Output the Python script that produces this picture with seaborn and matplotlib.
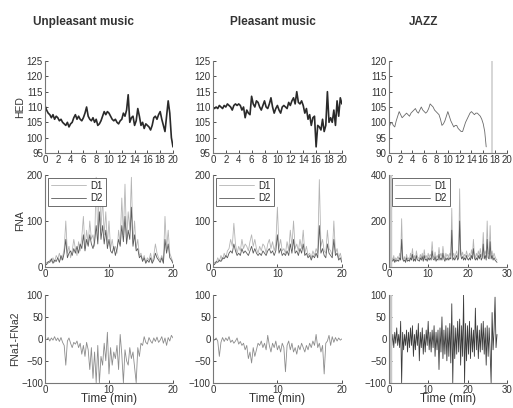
import numpy as np
import matplotlib
matplotlib.use("Agg")
import matplotlib.pyplot as plt
import seaborn as sns

# ---- data ----
titles = ["Unpleasant music", "Pleasant music", "JAZZ"]
row_labels = ["HED", "FNA", "FNa1-FNa2"]

dur_unp = 20
dur_ple = 20
dur_jazz_hed = 16.5
dur_jazz = 27.5

hed_unp = [110.5, 109, 108, 107.5, 106.5, 107.5, 106, 107, 106.5, 105.5, 106, 105, 104.5, 104, 105, 103.5,
           104.5, 105, 106.5, 107.5, 106, 107, 106, 105.5, 106.5, 108, 110, 107, 106, 105.5, 106.5, 105,
           106, 104, 104.5, 105.5, 107, 108.5, 107.5, 108.5, 108, 107, 106, 105.5, 106, 105, 104.5, 105.5,
           106, 108, 107, 109, 114, 105, 106.5, 107, 104, 105.5, 109.5, 107, 104, 105, 103, 104.5, 104,
           103.5, 102.5, 104, 106.5, 107, 106, 107.5, 108.5, 106, 104, 102, 107, 112, 108, 100, 97]
hed_ple = [110, 109.5, 110, 109.5, 110.5, 110, 109.5, 110.5, 110, 111, 110.5, 110, 109, 110.5, 111, 110.5,
           111, 110.5, 109, 110, 106.5, 109, 108, 107.5, 113.5, 111, 110, 112, 111.5, 110, 109, 110.5, 112,
           110, 109.5, 111, 113, 110, 108, 109.5, 110.5, 109, 108, 110, 110.5, 110, 109.5, 111.5, 110.5,
           112, 113, 111, 115, 111.5, 111, 112, 110.5, 108, 109.5, 106, 107.5, 104, 106.5, 107, 97, 104,
           103.5, 102.5, 106, 102, 104, 115, 105, 106.5, 105, 109, 104, 112, 107, 113, 111]
hed_jazz = [98, 99.5, 100, 99, 98.5, 100.5, 102, 103.5, 102.5, 101.5, 102, 102.5, 103, 102.5, 102, 103,
            103.5, 104, 104.5, 103.5, 103, 104, 105, 104, 103.5, 103, 103.5, 104.5, 106, 105.5, 105, 104,
            103.5, 103, 102.5, 101, 99, 99.5, 100.5, 102, 103.5, 102, 100.5, 99.5, 98.5, 99, 99, 98, 97.5,
            97, 97, 98.5, 100, 101, 102, 103, 103.5, 103, 102.5, 103, 103, 102.5, 102, 101, 99.5, 97, 92]

fna_unp_d1 = [5, 10, 8, 15, 12, 20, 10, 25, 18, 30, 15, 22, 40, 100, 30, 45, 20, 35, 60, 40, 25, 55, 35, 65,
              110, 40, 80, 50, 100, 60, 70, 45, 195, 60, 190, 80, 150, 70, 120, 50, 100, 40, 60, 35, 45, 30,
              80, 50, 150, 70, 180, 60, 120, 80, 195, 50, 100, 40, 60, 25, 30, 15, 25, 10, 20, 15, 30, 10, 25,
              50, 30, 20, 15, 25, 10, 110, 40, 80, 30, 20, 10]
fna_unp_d2 = [8, 5, 12, 10, 18, 8, 15, 12, 20, 10, 25, 15, 30, 60, 20, 30, 35, 25, 40, 30, 45, 30, 50, 40, 70,
              35, 60, 45, 70, 50, 40, 55, 90, 50, 120, 60, 90, 50, 80, 40, 60, 35, 30, 45, 25, 40, 60, 45, 90,
              55, 110, 50, 80, 60, 130, 45, 70, 35, 40, 20, 25, 12, 20, 8, 15, 10, 20, 8, 15, 30, 20, 15, 10,
              20, 8, 60, 30, 50, 20, 15, 8]
fna_ple_d1 = [5, 10, 8, 20, 12, 25, 15, 30, 20, 35, 40, 60, 45, 95, 50, 30, 45, 35, 60, 40, 50, 45, 35, 55, 70,
              45, 60, 40, 30, 45, 35, 50, 45, 30, 50, 60, 40, 55, 35, 50, 130, 40, 60, 35, 40, 30, 55, 35, 80,
              45, 100, 40, 50, 35, 60, 40, 80, 30, 45, 25, 30, 20, 35, 25, 40, 30, 190, 45, 60, 35, 30, 80, 40,
              35, 25, 100, 30, 40, 20, 30, 15]
fna_ple_d2 = [8, 5, 12, 10, 15, 12, 20, 18, 25, 20, 30, 35, 30, 50, 35, 25, 30, 25, 40, 30, 35, 30, 25, 35, 45,
              30, 40, 30, 25, 30, 25, 35, 30, 25, 35, 40, 30, 35, 25, 35, 70, 30, 40, 25, 30, 25, 35, 25, 50,
              30, 60, 30, 35, 25, 40, 30, 50, 25, 30, 20, 25, 15, 25, 20, 30, 20, 90, 30, 40, 25, 20, 50, 30,
              25, 20, 60, 25, 30, 15, 20, 10]
fna_jazz_d1 = [150, 90, 60, 40, 30, 50, 25, 40, 30, 45, 35,
               60, 40, 210, 50, 30, 45, 25, 55, 35, 40,
               30, 60, 40, 80, 35, 50, 30, 70, 45, 40,
               35, 55, 40, 60, 30, 75, 40, 50, 35, 60,
               40, 55, 45, 110, 50, 40, 65, 35, 50, 40,
               85, 45, 60, 40, 90, 50, 35, 60, 45, 55,
               40, 60, 50, 255, 45, 60, 40, 55, 70, 45,
               60, 340, 80, 50, 65, 40, 55, 45, 70, 50,
               45, 60, 40, 75, 50, 120, 55, 40, 60, 45,
               70, 50, 80, 45, 60, 150, 50, 70, 45, 200,
               60, 55, 180, 50, 70, 40, 60, 45, 35, 30]
fna_jazz_d2 = [120, 70, 45, 30, 25, 35, 20, 30, 25, 30, 25,
               40, 30, 120, 35, 25, 30, 20, 40, 25, 30,
               25, 40, 30, 55, 25, 35, 25, 50, 30, 30,
               25, 40, 30, 45, 25, 50, 30, 35, 25, 40,
               30, 40, 30, 70, 35, 30, 45, 25, 35, 30,
               55, 30, 40, 30, 60, 35, 25, 40, 30, 40,
               30, 40, 35, 160, 30, 40, 30, 40, 50, 30,
               40, 200, 55, 35, 45, 30, 40, 30, 50, 35,
               30, 40, 30, 50, 35, 80, 40, 30, 40, 30,
               50, 35, 55, 30, 40, 100, 35, 50, 30, 120,
               40, 35, 110, 35, 50, 30, 40, 30, 25, 20]

diff_unp = [0, -2, 3, -5, 2, -3, 5, -4, 2,
            -6, 3, -8, -15, -60, -5, 2, -10, -20, -8,
            -12, -5, -20, -10, -35, -15, -40, -8, -25, -70,
            -20, -90, -30, -100, -15, -100, -40, -60, -10, -50,
            15, -80, -20, -60, -30, -45, -15, -70, 10, -35,
            -100, -25, -50, -60, -20, -45, -30, -65, -100, -20,
            -40, -10, -15, 5, -8, -12, 3, -5, -10, 2,
            -6, 4, -8, -3, 5, -10, 2, -15, 3, -5,
            8, 2]
diff_ple = [0, -3, 2, -5, -40, -8, 3, -6, 2,
            -4, 5, -8, -3, -10, -5, 2, -12, -6, -15,
            -10, -25, -15, -45, -30, -55, -20, -40, -25, -10,
            -15, -5, -20, -10, -25, 8, -15, -30, -10, -20,
            -5, -25, -15, -30, -10, -20, -75, -15, -5, -25,
            -10, -30, -20, -35, -15, -25, -10, -20, -30, -15,
            -25, -10, -20, -5, -15, 10, -20, -10, -30, -15,
            -80, -10, -5, 8, -15, 5, -8, 3, -5, 2,
            -3, 0]
diff_jazz = [95, -95, 20, -15, 10, -20, 15, -10, 25, -15, 10,
             -20, 40, -100, 15, -25, 10, -15, 20, -30, 15,
             -20, 25, -15, 30, -40, 10, -25, 20, -15, 35,
             -50, 15, -20, 25, -35, 10, -30, 20, -15, 40,
             -25, 15, -30, 20, -20, 30, -40, 15, -25, 20,
             -70, 25, -30, 50, -45, 20, -35, 30, -50, 25,
             -40, 35, -55, 80, -100, 30, -45, 25, -35, 40,
             -30, 45, -60, 30, -40, 100, -100, 35, -50, 30,
             -35, 40, -45, 25, -30, 20, -40, 70, -25, 30,
             -45, 20, -30, 35, -25, 40, -35, 25, -60, 30,
             -40, 25, -30, -100, 60, -25, 20, 95, -20, 10]

# grey marker lines seen in the JAZZ panels (minutes)
jazz_hed_marker = [17.4]
jazz_start_marker = [0.3]


def minutes(values, end):
    return np.linspace(0, end, len(values))


sns.set_style("white")
plt.rcParams['font.family'] = ['Liberation Sans', 'DejaVu Sans']

fig = plt.figure(figsize=(5.13, 4.08), dpi=100)

lefts = [0.0877, 0.415, 0.758]
widths = [0.2495, 0.2515, 0.23]
bottoms = [0.625, 0.3456, 0.062]
heights = [0.2255, 0.2255, 0.215]

axes = [[fig.add_axes([lefts[c], bottoms[r], widths[c], heights[r]]) for c in range(3)] for r in range(3)]

# row 1: HED
hed = [(hed_unp, dur_unp, "#2a2a2a", 1.2), (hed_ple, dur_ple, "#2a2a2a", 1.2),
       (hed_jazz, dur_jazz_hed, "#6a6a6a", 0.6)]
for c, (vals, end, col, lw) in enumerate(hed):
    ax = axes[0][c]
    sns.lineplot(x=minutes(vals, end), y=vals, ax=ax, color=col, lw=lw, estimator=None)
    ax.set_xlim(0, 20)
    ax.set_xticks(range(0, 21, 2))
    if c < 2:
        ax.set_ylim(95, 125)
        ax.set_yticks(range(95, 126, 5))
    else:
        ax.set_ylim(90, 120)
        ax.set_yticks(range(90, 121, 5))
for m in jazz_hed_marker:
    axes[0][2].axvline(m, color="#d0d0d0", lw=1.2)

# row 2: FNA, two series
fna = [(fna_unp_d1, fna_unp_d2, dur_unp), (fna_ple_d1, fna_ple_d2, dur_ple),
       (fna_jazz_d1, fna_jazz_d2, dur_jazz)]
for c, (d1, d2, end) in enumerate(fna):
    ax = axes[1][c]
    sns.lineplot(x=minutes(d1, end), y=d1, ax=ax, color="#b4b4b4", lw=0.6, estimator=None, label="D1")
    sns.lineplot(x=minutes(d2, end), y=d2, ax=ax, color="#5a5a5a", lw=0.6, estimator=None, label="D2")
    if c < 2:
        ax.set_xlim(0, 20)
        ax.set_xticks([0, 10, 20])
        ax.set_ylim(0, 200)
        ax.set_yticks([0, 100, 200])
    else:
        ax.set_xlim(0, 30)
        ax.set_xticks([0, 10, 20, 30])
        ax.set_ylim(0, 400)
        ax.set_yticks([0, 200, 400])
        for m in jazz_start_marker:
            ax.axvline(m, color="#c8c8c8", lw=2.5)
    leg = ax.legend(loc="upper left", fontsize=7, handlelength=3.6, frameon=True, fancybox=False,
                    edgecolor="#555555", framealpha=1, borderaxespad=0.3, borderpad=0.3,
                    labelspacing=0.25, handletextpad=0.5)
    leg.get_frame().set_linewidth(0.6)

# row 3: difference
diffs = [(diff_unp, dur_unp, "#8c8c8c", 0.6), (diff_ple, dur_ple, "#8c8c8c", 0.6),
         (diff_jazz, dur_jazz, "#3c3c3c", 0.6)]
for c, (vals, end, col, lw) in enumerate(diffs):
    ax = axes[2][c]
    sns.lineplot(x=minutes(vals, end), y=vals, ax=ax, color=col, lw=lw, estimator=None)
    ax.set_ylim(-100, 100)
    ax.set_yticks([-100, -50, 0, 50, 100])
    if c < 2:
        ax.set_xlim(0, 20)
        ax.set_xticks([0, 10, 20])
    else:
        ax.set_xlim(0, 30)
        ax.set_xticks([0, 10, 20, 30])
        for m in jazz_start_marker:
            ax.axvline(m, color="#c8c8c8", lw=2.5)
    ax.set_xlabel("Time (min)", fontsize=8.5, labelpad=-1, color="#333333")

for r in range(3):
    for c in range(3):
        ax = axes[r][c]
        sns.despine(ax=ax)
        for s in ["left", "bottom"]:
            ax.spines[s].set_color("#777777")
            ax.spines[s].set_linewidth(0.8)
        ax.tick_params(labelsize=7, length=2, width=0.6, direction="in", pad=1.5,
                       bottom=True, left=True, colors="#333333")
    axes[r][0].set_ylabel(row_labels[r], fontsize=7.5, labelpad=1, color="#333333")

title_x = [0.163, 0.532, 0.826]
for t, x in zip(titles, title_x):
    fig.text(x, 0.945, t, ha="center", va="center", fontsize=8.5, fontweight="bold", color="#333333")

fig.savefig("out.png", dpi=100)
